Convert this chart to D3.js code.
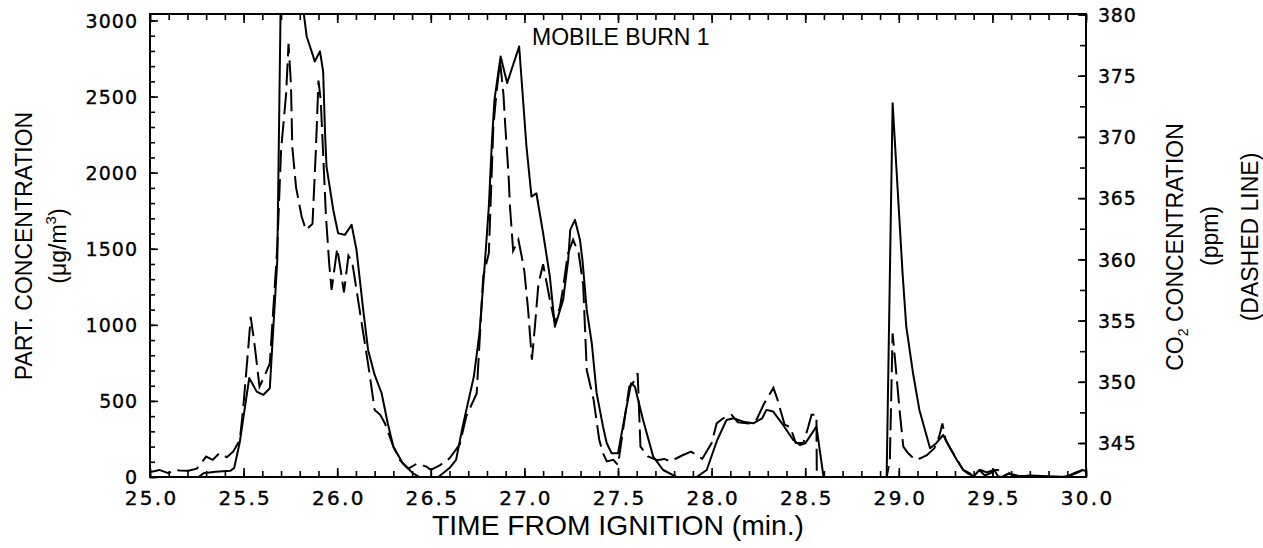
<!DOCTYPE html>
<html><head><meta charset="utf-8">
<script src="https://cdn.jsdelivr.net/npm/d3@7"></script>
<style>
html,body{margin:0;padding:0;background:#fff;}
svg{display:block;}
.tick-label{font-family:"DejaVu Sans",sans-serif;fill:#000;stroke:#000;stroke-width:0.35px;}
.title{font-family:"Liberation Sans",Arial,sans-serif;fill:#000;}
</style></head>
<body>
<svg id="chart" width="1263" height="548"></svg>
<script>
// ---- data ----
const chartTitle = "MOBILE BURN 1";
const xTickLabels = [25.0,25.5,26.0,26.5,27.0,27.5,28.0,28.5,29.0,29.5,30.0];
const leftTickLabels = [0,500,1000,1500,2000,2500,3000];
const rightTickLabels = [345,350,355,360,365,370,375,380];

// particulate concentration (solid line), µg/m3
const partTime = [25.00,25.26,25.285,25.35,25.43,25.45,25.48,25.53,25.57,25.605,25.64,25.68,25.70,25.76,25.82,25.837,25.872,25.88,25.908,25.925,25.935,25.943,25.979,26.005,26.041,26.077,26.103,26.139,26.165,26.20,26.237,26.27,26.30,26.35,26.405,26.44,26.54,26.60,26.635,26.67,26.73,26.76,26.79,26.81,26.826,26.84,26.873,26.908,26.972,27.011,27.038,27.064,27.10,27.136,27.163,27.207,27.234,27.245,27.27,27.297,27.31,27.333,27.36,27.386,27.42,27.44,27.466,27.50,27.536,27.57,27.59,27.634,27.688,27.741,27.813,27.92,27.974,28.03,28.08,28.116,28.17,28.222,28.27,28.293,28.329,28.382,28.436,28.472,28.50,28.56,28.598,28.935,28.967,29.02,29.04,29.076,29.11,29.167,29.20,29.237,29.27,29.31,29.344,29.38,29.398,29.43,29.46,29.50,29.51,29.53,29.55,29.59,29.62,29.70,29.80,29.90,29.945,29.98,30.00];
const partValue = [0,0,24,35,41,60,232,650,561,539,583,1427,3300,3400,3060,2895,2764,2731,2797,2665,2261,2040,1755,1602,1591,1657,1493,1098,835,671,552,353,199,90,24,0,0,59,112,331,660,945,1427,1777,2194,2479,2764,2589,2829,2172,1843,1865,1602,1317,988,1164,1427,1624,1690,1558,1427,1098,879,550,331,222,156,156,397,616,594,375,134,46,0,0,46,243,375,386,364,353,386,441,430,342,243,210,221,331,0,0,2457,1340,988,682,441,189,222,276,199,112,46,24,0,46,10,30,46,5,0,25,0,10,5,0,24,46,40];

// CO2 concentration (dashed line), ppm
const co2Time = [25.00,25.01,25.05,25.098,25.133,25.16,25.205,25.25,25.30,25.335,25.37,25.41,25.444,25.48,25.497,25.524,25.538,25.56,25.585,25.61,25.64,25.68,25.70,25.727,25.74,25.753,25.76,25.78,25.81,25.833,25.868,25.886,25.90,25.912,25.94,25.957,25.97,26.00,26.02,26.036,26.06,26.08,26.12,26.17,26.20,26.23,26.255,26.30,26.335,26.38,26.424,26.477,26.50,26.55,26.60,26.655,26.69,26.745,26.78,26.81,26.834,26.85,26.87,26.888,26.897,26.915,26.923,26.94,26.968,26.986,27.00,27.02,27.04,27.056,27.075,27.10,27.136,27.163,27.19,27.207,27.225,27.234,27.26,27.29,27.314,27.333,27.37,27.40,27.42,27.44,27.475,27.50,27.56,27.58,27.605,27.62,27.66,27.71,27.746,27.78,27.845,27.89,27.95,28.00,28.027,28.06,28.107,28.14,28.20,28.24,28.28,28.33,28.35,28.39,28.42,28.45,28.49,28.516,28.534,28.56,28.562,28.935,28.952,28.967,28.98,29.006,29.024,29.05,29.087,29.115,29.15,29.19,29.215,29.233,29.25,29.30,29.344,29.37,29.40,29.436,29.47,29.507,29.53,29.56,29.59,29.64,29.70,29.75,29.80,29.87,29.90,29.955,30.00];
const co2Value = [342.7,342.66,342.8,342.53,342.8,342.75,342.74,342.9,343.89,343.62,344.16,343.84,344.29,345.25,347.7,352.59,355.3,352.86,349.6,350.41,351.5,361.0,368.9,373.5,377.6,374.3,369.2,365.9,363.5,362.4,362.9,368.9,374.6,373.0,363.5,359.7,357.5,360.9,359.0,357.3,360.3,359.8,355.85,350.96,347.7,347.3,346.6,344.7,343.6,342.9,343.3,343.07,342.8,343.2,343.75,344.9,347.2,349.05,358.6,360.5,370.8,373.5,376.2,373.5,371.1,367.0,364.3,360.7,361.6,360.2,359.0,355.85,351.8,354.5,358.0,359.6,356.7,354.8,356.1,357.7,359.7,360.5,361.6,360.5,357.9,350.96,348.5,345.25,344.16,343.5,343.62,343.2,349.6,349.9,350.7,344.7,343.9,343.6,343.7,343.5,344.0,344.3,343.7,345.0,346.6,347.0,347.3,346.7,346.6,346.9,348.2,349.5,348.65,346.5,346.3,345.0,345.0,346.3,347.3,347.3,342.23,342.23,343.5,353.95,351.8,347.4,344.7,344.16,343.62,343.75,344.0,344.57,345.5,346.6,345.25,343.9,342.8,342.5,342.3,342.8,342.6,342.8,342.8,342.3,342.5,342.3,342.3,342.3,342.2,342.2,342.3,342.65,342.8];

// ---- layout ----
const L = 150, R = 1086, T = 14, B = 477;
const svg = d3.select("#chart");

const x = d3.scaleLinear().domain([25, 30]).range([L, R]);
const yL = d3.scaleLinear().domain([0, 3000]).range([B, 20.5]);
const yR = d3.scaleLinear().domain([345, 380]).range([443, 14.5]);

svg.append("defs").append("clipPath").attr("id","clip")
  .append("rect").attr("x",L).attr("y",T).attr("width",R-L).attr("height",B-T);

const axisStyle = g => {
  g.select(".domain").remove();
  g.selectAll(".tick line").attr("stroke","#000").attr("stroke-width",1.6);
};
const slot = 13.6; // width of one character cell in the tick labels
const labelStyle = (sel, fs) => sel.attr("class","tick-label").attr("font-size",fs)
  .attr("textLength", function(){ return this.textContent.length*slot - 3; })
  .attr("lengthAdjust","spacing");

// minor / major ticks
const xMinor = d3.range(25, 30.0001, 0.1).map(v => +v.toFixed(1));
svg.append("g").attr("transform",`translate(0,${B})`)
  .call(d3.axisBottom(x).tickValues(xMinor).tickSize(-6).tickFormat(""))
  .call(axisStyle);
svg.append("g").attr("transform",`translate(0,${T})`)
  .call(d3.axisTop(x).tickValues(xMinor).tickSize(-6).tickFormat(""))
  .call(axisStyle);
svg.append("g").attr("transform",`translate(0,${T})`)
  .call(d3.axisTop(x).tickValues(xTickLabels).tickSize(-9).tickFormat(""))
  .call(axisStyle);
const xAx = svg.append("g").attr("transform",`translate(0,${B})`)
  .call(d3.axisBottom(x).tickValues(xTickLabels).tickSize(-9).tickPadding(26).tickFormat(d3.format(".1f")))
  .call(axisStyle);
xAx.selectAll("text").call(labelStyle, 20).attr("dy","0").attr("y",28);

const leftMinor = d3.range(0, 3001, 100);
svg.append("g").attr("transform",`translate(${L},0)`)
  .call(d3.axisRight(yL).tickValues(leftMinor).tickSize(5).tickFormat(""))
  .call(axisStyle);
const yAx = svg.append("g").attr("transform",`translate(${L},0)`)
  .call(d3.axisLeft(yL).tickValues(leftTickLabels).tickSize(-8).tickPadding(14).tickFormat(d3.format("d")))
  .call(axisStyle);
yAx.selectAll("text").call(labelStyle, 19).attr("x",-13).attr("dy","0.36em");

const rightMinor = d3.range(345, 380.1, 2.5);
svg.append("g").attr("transform",`translate(${R},0)`)
  .call(d3.axisLeft(yR).tickValues(rightMinor).tickSize(6).tickFormat(""))
  .call(axisStyle);
const rAx = svg.append("g").attr("transform",`translate(${R},0)`)
  .call(d3.axisRight(yR).tickValues(rightTickLabels).tickSize(-8).tickPadding(12).tickFormat(d3.format("d")))
  .call(axisStyle);
rAx.selectAll("text").call(labelStyle, 19).attr("x",12).attr("dy","0.36em");

// frame
svg.append("rect").attr("x",L).attr("y",T).attr("width",R-L).attr("height",B-T)
  .attr("fill","none").attr("stroke","#000").attr("stroke-width",2);

// lines
const partData = partTime.map((t,i)=>({t, v: partValue[i]}));
const co2Data = co2Time.map((t,i)=>({t, v: co2Value[i]}));
const plot = svg.append("g").attr("clip-path","url(#clip)");
plot.append("path").datum(partData)
  .attr("d", d3.line().x(d=>x(d.t)).y(d=>yL(d.v)))
  .attr("fill","none").attr("stroke","#000").attr("stroke-width",2).attr("stroke-linejoin","round");
plot.append("path").datum(co2Data)
  .attr("d", d3.line().x(d=>x(d.t)).y(d=>yR(d.v)))
  .attr("fill","none").attr("stroke","#000").attr("stroke-width",2)
  .attr("stroke-dasharray","22,7");

// titles
svg.append("text").attr("class","title").attr("x",532).attr("y",45)
  .attr("font-size",23).text(chartTitle);

svg.append("text").attr("class","title").attr("x",618).attr("y",535)
  .attr("text-anchor","middle").attr("font-size",28)
  .attr("textLength",372).attr("lengthAdjust","spacingAndGlyphs")
  .text("TIME FROM IGNITION (min.)");

function vtitle(cx, cy, fs, build){
  const g = svg.append("g").attr("transform",`translate(${cx},${cy}) rotate(-90)`);
  const t = g.append("text").attr("class","title").attr("text-anchor","middle")
    .attr("font-size",fs).attr("y", fs*0.36);
  build(t);
}
vtitle(24, 246, 23, t => t.text("PART. CONCENTRATION"));
vtitle(58, 246, 23, t => {
  t.append("tspan").text("(\u03BCg/m");
  t.append("tspan").attr("font-size",15).attr("dy",-10).text("3");
  t.append("tspan").attr("dy",10).text(")");
});
vtitle(1175, 247, 23, t => {
  t.append("tspan").text("CO");
  t.append("tspan").attr("font-size",14).attr("dy",5).text("2");
  t.append("tspan").attr("dy",-5).text(" CONCENTRATION");
});
vtitle(1210, 236, 23, t => t.text("(ppm)"));
vtitle(1250, 237, 23, t => t.text("(DASHED LINE)"));
</script>
</body></html>
